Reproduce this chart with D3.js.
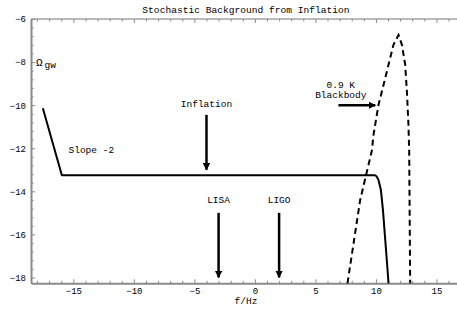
<!DOCTYPE html>
<html lang="en">
<head>
  <meta charset="UTF-8">
  <title>Stochastic Background from Inflation</title>
  <script src="https://d3js.org/d3.v7.min.js"></script>
  <style>
    body { margin: 0; background: #fff; }
    text { font-family: "Liberation Mono", "DejaVu Sans Mono", monospace; fill: #000; }
    .axis path, .axis line { stroke: #8a8a8a; }
    .axis text { font-size: 9px; font-family: "Liberation Mono", monospace; }
  </style>
</head>
<body>
  <svg id="chart" width="457" height="309"></svg>

  <script>
    // inflation spectrum (log10 f, log10 Omega)
    const inflation = [
      [-17.52, -10.14], [-15.95, -13.25], [9.9, -13.25], [10.05, -13.3],
      [10.21, -13.47], [10.41, -13.93], [10.58, -14.86], [10.77, -16.25],
      [10.96, -17.64], [11.04, -18.27]
    ];
    // 0.9 K blackbody spectrum
    const blackbody = [
      [7.65, -18.27], [8.7, -14.4], [9.67, -12.1], [9.8, -11.38],
      [10.21, -9.99], [10.63, -9.06], [11.04, -8.13], [11.45, -7.2],
      [11.87, -6.74], [12.15, -7.2], [12.42, -8.13], [12.56, -9.37],
      [12.69, -10.92], [12.75, -12.15], [12.83, -18.27]
    ];
    // arrows: [x1, y1, x2, y2]
    const arrows = [
      [-4, -10.45, -4, -13.0],
      [-3, -15.0, -3, -18.0],
      [2, -15.0, 2, -18.0],
      [6.9, -10.0, 9.95, -10.0]
    ];
    const labels = [
      {x: -4, y: -10.1, text: "Inflation", anchor: "middle"},
      {x: -3, y: -14.55, text: "LISA", anchor: "middle"},
      {x: 2, y: -14.55, text: "LIGO", anchor: "middle"},
      {x: 7.1, y: -9.2, text: "0.9 K", anchor: "middle"},
      {x: 7.1, y: -9.65, text: "Blackbody", anchor: "middle"},
      {x: -15.4, y: -12.2, text: "Slope -2", anchor: "start"}
    ];
    const xTicks = [-15, -10, -5, 0, 5, 10, 15];
    const yTicks = [-18, -16, -14, -12, -10, -8, -6];

    const svg = d3.select("#chart");
    const m = {left: 31, right: 457, top: 19, bottom: 283.3};

    const x = d3.scaleLinear().domain([-18.5, 16.7]).range([m.left, m.right]);
    const y = d3.scaleLinear().domain([-18.27, -6]).range([m.bottom, m.top]);

    const minorX = d3.range(-18, 17, 1).filter(v => v % 5 !== 0);
    const minorY = d3.range(-18, -5.9, 0.4).map(v => +v.toFixed(1)).filter(v => Math.abs(v % 2) > 0.01);

    // frame
    svg.append("line").attr("x1", m.left).attr("x2", m.right).attr("y1", m.top).attr("y2", m.top)
      .attr("stroke", "#777").attr("stroke-width", 1.2);

    const xAxis = svg.append("g").attr("class", "axis")
      .attr("transform", `translate(0,${m.bottom})`)
      .call(d3.axisBottom(x).tickValues(xTicks).tickSizeInner(-4).tickSizeOuter(0).tickPadding(4));
    xAxis.select(".domain").attr("stroke-width", 2);
    svg.append("g").attr("class", "axis")
      .attr("transform", `translate(0,${m.bottom})`)
      .call(d3.axisBottom(x).tickValues(minorX).tickSize(-2.5).tickFormat(""))
      .select(".domain").remove();

    // top ticks
    svg.append("g").attr("class", "axis")
      .attr("transform", `translate(0,${m.top})`)
      .call(d3.axisTop(x).tickValues(xTicks).tickSize(-4).tickFormat(""))
      .select(".domain").remove();
    svg.append("g").attr("class", "axis")
      .attr("transform", `translate(0,${m.top})`)
      .call(d3.axisTop(x).tickValues(minorX).tickSize(-2.5).tickFormat(""))
      .select(".domain").remove();

    const yAxis = svg.append("g").attr("class", "axis")
      .attr("transform", `translate(${m.left},0)`)
      .call(d3.axisLeft(y).tickValues(yTicks).tickSizeInner(-4).tickSizeOuter(0).tickPadding(5));
    yAxis.select(".domain").attr("stroke-width", 2);
    svg.append("g").attr("class", "axis")
      .attr("transform", `translate(${m.left},0)`)
      .call(d3.axisLeft(y).tickValues(minorY).tickSize(-2.5).tickFormat(""))
      .select(".domain").remove();

    const line = d3.line().x(d => x(d[0])).y(d => y(d[1]));

    svg.append("path").datum(inflation)
      .attr("d", line).attr("fill", "none").attr("stroke", "#000")
      .attr("stroke-width", 2).attr("stroke-linejoin", "round");

    svg.append("path").datum(blackbody)
      .attr("d", line).attr("fill", "none").attr("stroke", "#000")
      .attr("stroke-width", 2).attr("stroke-dasharray", "6,4");

    // arrows
    svg.append("defs").append("marker")
      .attr("id", "head").attr("viewBox", "0 0 10 10")
      .attr("refX", 9).attr("refY", 5)
      .attr("markerWidth", 3).attr("markerHeight", 3)
      .attr("orient", "auto")
      .append("path").attr("d", "M0,0L10,5L0,10Z").attr("fill", "#000");

    svg.selectAll(".arrow").data(arrows).enter().append("line")
      .attr("class", "arrow")
      .attr("x1", d => x(d[0])).attr("y1", d => y(d[1]))
      .attr("x2", d => x(d[2])).attr("y2", d => y(d[3]))
      .attr("stroke", "#000").attr("stroke-width", 2.5)
      .attr("marker-end", "url(#head)");

    svg.selectAll(".lab").data(labels).enter().append("text")
      .attr("class", "lab")
      .attr("x", d => x(d.x)).attr("y", d => y(d.y))
      .attr("text-anchor", d => d.anchor)
      .attr("font-size", "9.5px")
      .text(d => d.text);

    // title, axis label
    svg.append("text").attr("x", 246).attr("y", 13)
      .attr("text-anchor", "middle").attr("font-size", "9.6px")
      .text("Stochastic Background from Inflation");
    svg.append("text").attr("x", 246).attr("y", 304)
      .attr("text-anchor", "middle").attr("font-size", "9.5px")
      .text("f/Hz");

    const om = svg.append("text").attr("x", 36).attr("y", y(-8) + 4).attr("font-size", "11px");
    om.append("tspan").text("Ω");
    om.append("tspan").attr("dx", 2).attr("dy", 2).attr("font-size", "9.5px").text("gw");
  </script>
</body>
</html>
